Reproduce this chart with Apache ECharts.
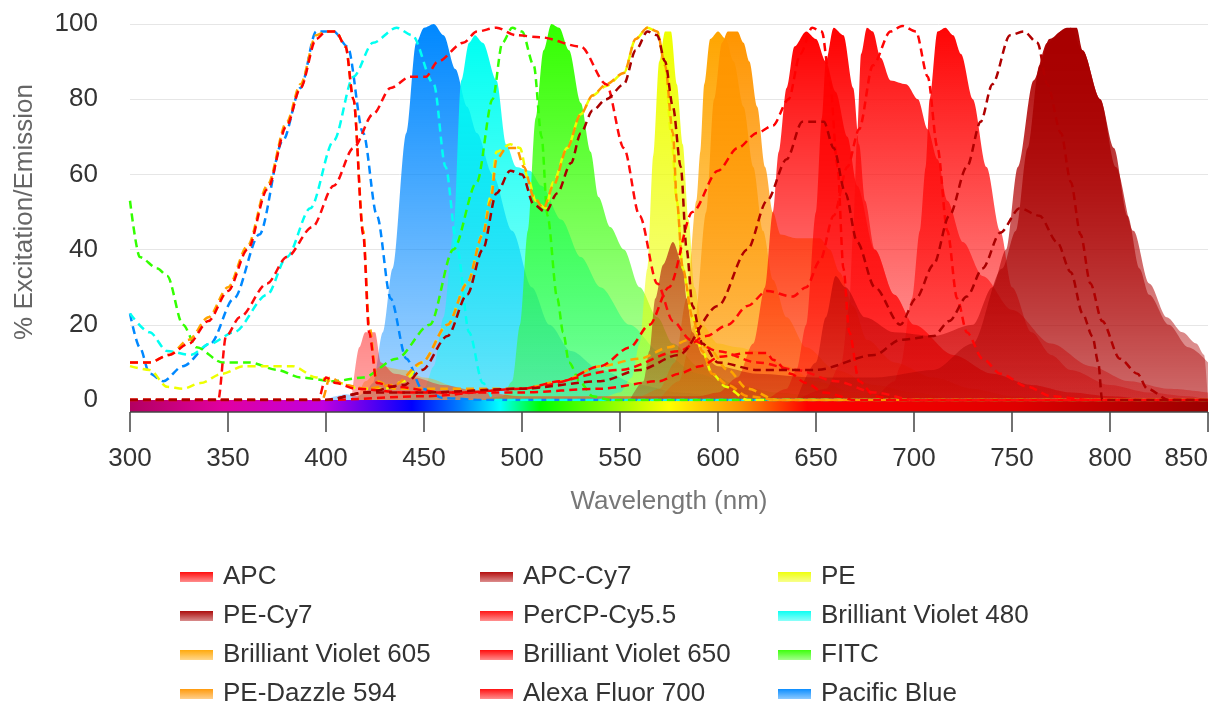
<!DOCTYPE html>
<html>
<head>
<meta charset="utf-8">
<script src="https://cdn.jsdelivr.net/npm/echarts@6/dist/echarts.min.js"></script>
<style>
  html, body { margin: 0; padding: 0; background: #fff; }
  #chart-container { width: 1216px; height: 704px; }
</style>
</head>
<body>
<div id="chart-container"></div>
<script>
// legend order (3 columns, filled row by row)
var fluorNames = ['APC', 'APC-Cy7', 'PE', 'PE-Cy7', 'PerCP-Cy5.5', 'Brilliant Violet 480',
  'Brilliant Violet 605', 'Brilliant Violet 650', 'FITC', 'PE-Dazzle 594', 'Alexa Fluor 700', 'Pacific Blue'];

var xTicks = [300, 350, 400, 450, 500, 550, 600, 650, 700, 750, 800, 850];

// [wavelength nm, %] pairs
var pacificBlueEx = [[300,23],[305,14],[310,7],[317,5],[327,9],[341,15],[353,27],[366,44],[378,69],[387,83],[395,98],[404,98],[411,94],[419,71],[426,49],[433,27],[441,11],[449,3],[460,0.5],[480,0],[850,0]];
var pacificBlueEm = [[400,0],[405,1],[410,1.5],[416,1],[420,2],[424,4.5],[429,18],[434,35],[441,71],[446,95],[450,99],[455,100],[460,97],[466,88],[472,78],[477,71],[485,60],[495,45],[505,30],[514,20],[525,13],[540,8],[560,4],[580,2],[600,1],[620,0]];

var bv480Ex = [[300,23],[310,18],[319,13],[331,12],[341,15],[353,18],[370,28],[380,38],[392,51],[404,69],[414,86],[424,95],[436,99],[444,97],[455,84],[461,62],[467,40],[473,18],[480,4.5],[486,0],[850,0]];
var bv480Em = [[440,0],[450,3],[455,9],[460,22],[465,44],[469,85],[473,95],[476,97],[480,95],[487,85],[492,68],[497,62],[504,61],[510,57],[520,48],[530,38],[540,30],[555,20],[570,13],[590,7],[610,3],[630,1],[650,0]];

var fitcEx = [[300,53],[305,38],[314,35],[319,33],[327,20],[334,14],[347,10],[361,10],[375,8],[387,6],[404,5],[419,6],[436,11],[453,20],[465,40],[477,58],[485,80],[490,95],[495,99],[500,98],[506,89],[510,70],[513,49],[518,27],[521,18],[524,10],[530,4.5],[536,1],[545,0],[850,0]];
var fitcEm = [[480,0],[490,1],[495,5],[499,20],[503,45],[507,75],[511,93],[515,100],[519,99],[524,93],[530,79],[535,66],[539,54],[545,46],[552,40],[560,30],[569,22],[577,15],[590,9],[610,4],[630,2],[650,1],[670,0]];

var peEx = [[300,9],[310,8],[319,3.5],[327,3],[336,4.5],[347,7],[358,9],[370,9],[383,9],[395,6],[407,4.5],[417,3],[430,3],[440,5],[449,10],[462,20],[472,31],[480,44],[484,54],[487,66],[494,68],[499,67],[503,59],[507,53],[512,51],[516,58],[523,67],[530,76],[536,81],[543,83.5],[552,87],[558,96],[564,99],[569,98],[573,89],[576,71],[579,53],[582,35],[587,22],[592,13],[597,7],[604,3.5],[615,0],[850,0]];
var peEm = [[540,0],[550,2],[556,6],[560,15],[564,35],[567,65],[570,90],[573,98],[576,98],[579,84],[582,68],[585,48],[588,30],[592,20],[600,15],[610,14],[620,13],[635,9],[650,5],[670,2],[700,0]];

var peDazzleEx = [[300,0],[398,0],[402,6],[410,4],[420,3],[435,4],[449,10],[462,20],[472,31],[480,44],[484,53],[487,64],[492,67],[497,67],[501,62],[506,54],[511,51],[516,57],[523,67],[530,76],[536,81],[543,84],[552,87],[558,96],[564,99],[569,98],[573,89],[577,71],[579,53],[582,35],[587,22],[592,13],[597,7],[605,4],[615,1],[630,0],[850,0]];
var peDazzleEm = [[570,0],[580,5],[588,20],[594,50],[598,80],[602,95],[605,98],[610,98],[613,95],[616,90],[620,78],[624,62],[628,50],[632,44],[640,43],[652,43],[657,40],[662,34],[669,25],[676,16],[690,10],[710,6],[730,3],[750,1],[770,0]];

var peCy7Ex = [[300,0],[400,0],[420,2],[440,4],[449,8],[462,17],[472,28],[480,40],[487,55],[494,61],[500,60],[506,52],[512,50],[518,55],[525,63],[530,71],[536,77],[543,80],[552,84],[558,93],[564,98],[569,97],[573,90],[577,78],[581,62],[584,40],[587,25],[592,15],[600,10],[620,8],[650,8],[680,12],[693,16],[710,17],[718,21],[727,27.5],[735,35],[744,44.5],[754,51],[764,49],[773,42],[780,34],[786,23],[791,17],[794,10],[796,0],[850,0]];
var peCy7Em = [[555,0],[562,5],[565,13],[568,27],[572,36],[577,42],[582,36],[584,27],[587,18],[592,12],[600,9],[620,7],[650,6],[680,6],[710,8],[730,15],[745,35],[752,45],[758,67],[764,89],[769,96],[778,99],[783,99],[786,93],[795,80],[802,67],[809,49],[815,35],[820,28],[830,20],[840,14],[850,10]];

var bv605Ex = [[300,10],[310,10],[320,12],[330,16],[340,22],[350,30],[360,41],[370,57],[380,74],[387,84],[395,97],[400,98],[405,98],[410,94],[414,80],[419,45],[422,20],[426,5],[435,3],[460,3],[500,3],[520,5],[540,9],[560,11],[575,14],[585,16],[595,14],[605,8],[615,3],[630,0],[850,0]];
var bv605Em = [[410,0],[415,0],[420,5],[428,9],[440,8],[450,6],[470,3],[500,1],[560,1],[570,3],[578,10],[584,27],[589,53],[591,66],[593,84],[596,96],[600,98],[604,96],[608,90],[613,78],[618,62],[623,45],[628,32],[635,22],[645,14],[660,8],[680,4],[700,2],[720,0]];

var bv650Ex = [[300,10],[310,10],[320,12],[330,15],[340,21],[350,29],[360,40],[370,56],[380,73],[387,83],[395,96],[400,98],[405,98],[410,94],[414,80],[419,44],[422,18],[426,4.5],[435,3.5],[460,2],[500,2],[540,3],[570,5],[580,7],[591,9],[601,11.5],[615,12.5],[625,12.5],[628,10.7],[637,7],[645,4.5],[654,2],[670,0],[850,0]];
var bv650Em = [[413,0],[417,14],[420,18],[425,18],[428,10],[435,7],[445,6],[460,4],[480,2],[500,1],[590,1],[600,2],[610,6],[618,15],[624,30],[628,50],[631,66],[635,83],[639,94],[645,98],[650,96],[655,90],[660,82],[666,70],[671,57],[680,40],[690,28],[700,20],[720,12],[740,7],[760,4],[780,2],[800,1],[820,0]];

var apcEx = [[300,0],[396,0],[400,6],[405,4.5],[415,3],[440,2],[470,2],[500,3],[520,5],[540,9],[555,14],[565,20],[575,30],[587,50],[600,61],[610,67],[620,71],[628,73],[636,80],[642,92],[648,99],[653,98],[657,85],[661,62],[664,35],[667,18],[672,5],[680,1],[690,0],[850,0]];
var apcEm = [[625,0],[635,3],[640,8],[645,20],[650,50],[653,75],[655,90],[659,99],[664,97],[669,83],[672,68],[675,53],[680,40],[690,28],[700,20],[720,12],[740,7],[760,4],[780,2],[800,1],[820,0]];

var perCPEx = [[300,0],[345,0],[349,17],[356,22],[370,31],[380,38],[393,46],[404,57],[414,67],[424,76],[433,83],[443,86],[451,86],[457,90],[470,95],[477,98],[487,99],[497,97],[509,96.5],[530,94],[543,84],[552,67],[560,49],[569,31],[577,21],[586,16],[600,13],[620,10],[640,8],[660,5],[680,2],[700,0],[850,0]];
var perCPEm = [[640,0],[655,3],[663,10],[667,25],[669,45],[671,70],[673,92],[676,99],[679,98],[683,91],[688,85],[696,84],[702,80],[707,72],[712,64],[717,53],[725,42],[735,33],[750,24],[770,15],[790,9],[810,5],[830,3],[850,2]];

var af700Ex = [[300,0],[400,0],[450,1],[500,3],[550,8],[580,13],[594,17],[605,20],[615,25],[625,29],[638,27.5],[645,30],[652,37],[659,49],[666,62],[672,72],[679,89],[688,98],[694,99.5],[701,98],[707,86],[712,67],[717,45],[722,27],[727,18],[735,11],[744,7],[758,3.5],[770,1],[790,0],[850,0]];
var af700Em = [[680,0],[690,5],[693,9],[699,27],[703,45],[706,62],[708,80],[712,98],[716,99],[720,97],[724,92],[730,80],[737,62],[744,45],[750,30],[760,18],[770,12],[780,8],[800,4],[820,2],[840,1],[850,0]];

var apcCy7Ex = [[300,0],[400,0],[420,2],[450,2],[500,3],[540,5],[560,8],[580,12],[600,25],[615,40],[625,53],[635,64],[643,74],[648,74],[654,74],[659,67],[665,55],[671,42],[680,30],[693,20],[701,27],[710,36],[718,49],[727,62],[734,74],[740,84],[749,97],[756,98],[763,95],[768,84],[775,71],[780,58],[785,44],[790,31],[796,21],[805,11],[814,7],[819,3],[830,0],[850,0]];
var apcCy7Em = [[640,0],[650,10],[655,22],[660,33],[665,30],[675,22],[690,18],[710,17],[730,20],[740,30],[747,40],[753,62],[761,85],[768,95],[775,98],[780,99],[786,93],[795,80],[803,62],[812,45],[820,31],[829,22],[837,18],[844,15],[848,12],[850,0]];

// colours
var palette = {
  'APC': '#ff0000', 'APC-Cy7': '#b00000', 'PE': '#eeff00', 'PE-Cy7': '#a80000',
  'PerCP-Cy5.5': '#ff0a0a', 'Brilliant Violet 480': '#00fff2', 'Brilliant Violet 605': '#ffa500',
  'Brilliant Violet 650': '#ff0000', 'FITC': '#33ff00', 'PE-Dazzle 594': '#ff9500',
  'Alexa Fluor 700': '#ff0505', 'Pacific Blue': '#0088ff'
};

// drawing order, short wavelengths at the back
var spectra = [
  ['Pacific Blue', pacificBlueEx, pacificBlueEm],
  ['Brilliant Violet 480', bv480Ex, bv480Em],
  ['FITC', fitcEx, fitcEm],
  ['PE', peEx, peEm],
  ['Brilliant Violet 605', bv605Ex, bv605Em],
  ['PE-Dazzle 594', peDazzleEx, peDazzleEm],
  ['Brilliant Violet 650', bv650Ex, bv650Em],
  ['APC', apcEx, apcEm],
  ['PerCP-Cy5.5', perCPEx, perCPEm],
  ['Alexa Fluor 700', af700Ex, af700Em],
  ['APC-Cy7', apcCy7Ex, apcCy7Em],
  ['PE-Cy7', peCy7Ex, peCy7Em]
];

function hexA(hex, a) {
  var n = parseInt(hex.slice(1), 16);
  return 'rgba(' + (n >> 16) + ',' + ((n >> 8) & 255) + ',' + (n & 255) + ',' + a + ')';
}
function fade(hex, a1, a2) {
  return new echarts.graphic.LinearGradient(0, 0, 0, 1, [
    { offset: 0, color: hexA(hex, a1) },
    { offset: 1, color: hexA(hex, a2) }
  ]);
}

var font = 'Liberation Sans, Arial, Helvetica, sans-serif';

var chartDom = document.getElementById('chart-container');
var myChart = echarts.init(chartDom);

var series = [];
spectra.forEach(function (s) {
  var c = palette[s[0]];
  series.push({
    name: s[0], type: 'line', data: s[2], smooth: 0.3, smoothMonotone: 'x',
    symbol: 'none', lineStyle: { width: 0 }, z: 2,
    areaStyle: { color: fade(c, 1, 0.35), opacity: 1 }
  });
});
spectra.forEach(function (s) {
  var c = palette[s[0]];
  series.push({
    name: s[0], type: 'line', data: s[1], smooth: 0.3, smoothMonotone: 'x',
    symbol: 'none', z: 3,
    lineStyle: { width: 2.5, type: [8, 5], color: c }
  });
});

var spectrumBar = new echarts.graphic.LinearGradient(0, 0, 1, 0, [
  { offset: 0, color: '#b0005c' },
  { offset: 0.091, color: '#e000a0' },
  { offset: 0.182, color: '#c000e0' },
  { offset: 0.264, color: '#0000ff' },
  { offset: 0.309, color: '#0080ff' },
  { offset: 0.345, color: '#00ffff' },
  { offset: 0.382, color: '#00ff00' },
  { offset: 0.5, color: '#ffff00' },
  { offset: 0.564, color: '#ff9900' },
  { offset: 0.627, color: '#ff0000' },
  { offset: 0.818, color: '#e00000' },
  { offset: 1, color: '#990000' }
]);

var legendLeft = [180, 480, 778];
var legends = legendLeft.map(function (left, col) {
  return {
    orient: 'vertical', left: left, top: 564, height: 200, padding: 0,
    itemWidth: 33, itemHeight: 10, itemGap: 13, icon: 'rect',
    textStyle: { fontSize: 26, lineHeight: 24, color: '#333', fontFamily: font, padding: [0, 0, 0, 5] },
    data: fluorNames.filter(function (n, i) { return i % 3 === col; }).map(function (n) {
      return { name: n, itemStyle: { color: fade(palette[n], 0.95, 0.45), borderWidth: 0 } };
    })
  };
});

option = {
  animation: false,
  grid: { left: 130, right: 8, top: 24, bottom: 304 },
  legend: legends,
  xAxis: [
    {
      type: 'value', min: xTicks[0], max: xTicks[xTicks.length - 1], interval: 50,
      position: 'bottom', offset: 6,
      axisLine: { onZero: false, lineStyle: { width: 12, color: spectrumBar, cap: 'butt' } },
      axisTick: { show: false }, axisLabel: { show: false }, splitLine: { show: false }
    },
    {
      type: 'value', min: xTicks[0], max: xTicks[xTicks.length - 1], interval: 50,
      position: 'bottom', offset: 12,
      axisLine: { onZero: false, lineStyle: { width: 1.5, color: '#444', cap: 'butt' } },
      axisTick: { length: 20, lineStyle: { width: 1.5, color: '#444' } },
      axisLabel: { fontSize: 26, color: '#333', margin: 34, fontFamily: font, alignMaxLabel: 'right' },
      splitLine: { show: false },
      name: 'Wavelength (nm)', nameLocation: 'middle', nameGap: 77,
      nameTextStyle: { fontSize: 26, color: '#777', fontFamily: font }
    }
  ],
  yAxis: {
    type: 'value', min: 0, max: 100, interval: 20,
    axisLine: { show: false }, axisTick: { show: false },
    splitLine: { lineStyle: { color: '#e6e6e6' } },
    axisLabel: { fontSize: 26, color: '#333', margin: 32, fontFamily: font },
    name: '% Excitation/Emission', nameLocation: 'middle', nameGap: 92,
    nameTextStyle: { fontSize: 26, color: '#666', fontFamily: font }
  },
  series: series
};

option && myChart.setOption(option);
</script>
</body>
</html>
